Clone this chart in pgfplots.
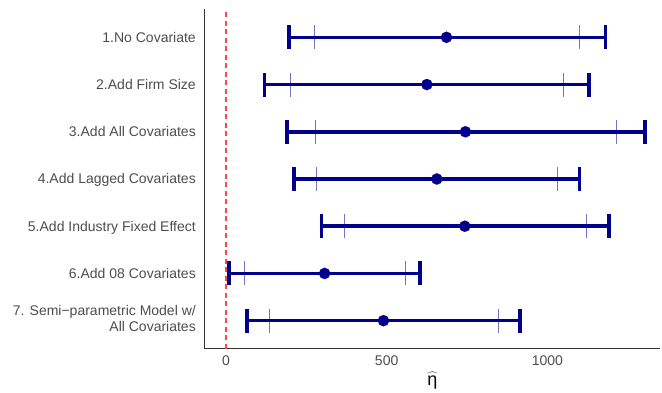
\documentclass[border=0pt]{standalone}
\usepackage{pgfplots}
\pgfplotsset{compat=1.18}
\usepackage{pgfplotstable}
\usepackage{fontspec}
\setmainfont{Liberation Sans}
\definecolor{navy}{HTML}{00008B}
\definecolor{lbl}{HTML}{4D4D4D}
\definecolor{zline}{RGB}{255,70,70}

\pgfplotstableread{
y lo95 lo est hi hi95
7 197 275 686 1101 1180
6 120 200 625 1049 1130
5 190 279 745 1214 1303
4 211 282 656 1030 1100
3 297 370 743 1120 1192
2 10 58 307 557 603
1 66 135 490 847 915
}\est

\begin{document}
\begin{tikzpicture}
\useasboundingbox (-205bp,-44bp) rectangle (457bp,349bp);
\begin{axis}[
 at={(227.5bp,170bp)}, anchor=center,
 scale only axis, width=455bp, height=340bp,
 xmin=-65, xmax=1350, ymin=0.4, ymax=7.6,
 axis x line*=bottom, axis y line*=left,
 axis line style={draw=black!80, line width=1bp},
 xtick={0,500,1000}, ytick={1,...,7},
 yticklabels={{\raisebox{1.5bp}{\begin{tabular}{@{}r@{}}7. Semi−parametric Model w/\\All Covariates\end{tabular}}}, 6.Add 08 Covariates, 5.Add Industry Fixed Effect, 4.Add Lagged Covariates, 3.Add All Covariates, 2.Add Firm Size, 1.No Covariate},
 major tick length=0pt,
 tick style={draw=none},
 /pgf/number format/assume math mode=true,
 /pgf/number format/1000 sep={},
 ticklabel style={font=\fontsize{14bp}{16bp}\selectfont, text=lbl, inner sep=0pt},
 xticklabel style={anchor=north, yshift=-7bp},
 yticklabel style={anchor=base east, xshift=-9bp, yshift=-5bp},
 xlabel={$\widehat{\mbox{η}}$},
 xlabel style={at={(axis description cs:0.5,0)}, anchor=north, yshift=-23bp, inner sep=0pt, font=\fontsize{18bp}{20bp}\selectfont},
 clip=false,
]
\addplot[draw=zline, mark=none, line width=1.7bp, dash pattern=on 5bp off 3.5bp] coordinates {(0,0.4) (0,7.6)};
\addplot[only marks, mark=|, mark size=12bp, mark options={line width=1bp, draw=navy, draw opacity=0.55}] table[x=lo,y=y]{\est};
\addplot[only marks, mark=|, mark size=12bp, mark options={line width=1bp, draw=navy, draw opacity=0.55}] table[x=hi,y=y]{\est};
\addplot[draw=none, error bars/.cd, x dir=both, x explicit, error mark=none, error bar style={draw=navy, line width=3.6bp}] table[x=est, y=y, x error plus expr=\thisrow{hi95}-\thisrow{est}, x error minus expr=\thisrow{est}-\thisrow{lo95}]{\est};
\addplot[only marks, mark=|, mark size=12bp, mark options={line width=3.6bp, draw=navy}] table[x=lo95,y=y]{\est};
\addplot[only marks, mark=|, mark size=12bp, mark options={line width=3.6bp, draw=navy}] table[x=hi95,y=y]{\est};
\addplot[only marks, mark=*, mark size=5.6bp, mark options={draw=navy, fill=navy, line width=0.2bp}] table[x=est,y=y]{\est};
\end{axis}
\end{tikzpicture}
\end{document}
